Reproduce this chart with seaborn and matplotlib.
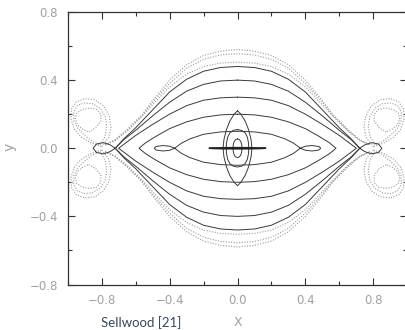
import numpy as np
import pandas as pd
import matplotlib
matplotlib.use("Agg")
import matplotlib.pyplot as plt
import seaborn as sns
from matplotlib.ticker import MultipleLocator

sns.set_style("ticks")
plt.rcParams['font.family'] = ['DejaVu Sans']

# ---------------- data ----------------
# Upper-right quarter of each solid (x1-type) orbit: from the top (x=0) to the tip on the x axis
lens_A_x = [0.00, 0.10, 0.20, 0.30, 0.40, 0.50, 0.60, 0.67, 0.72]
lens_A_y = [0.48, 0.474, 0.452, 0.405, 0.33, 0.225, 0.12, 0.055, 0.0]
loop_A_x = [0.75, 0.79, 0.83, 0.85, 0.83, 0.79, 0.75, 0.72]
loop_A_y = [-0.02, -0.033, -0.025, 0.0, 0.025, 0.033, 0.02, 0.0]

lens_B_x = [0.00, 0.10, 0.20, 0.30, 0.40, 0.50, 0.60, 0.67, 0.72]
lens_B_y = [0.40, 0.395, 0.375, 0.335, 0.27, 0.19, 0.105, 0.05, 0.0]

lens_C_x = [0.00, 0.10, 0.20, 0.30, 0.40, 0.50, 0.60, 0.70]
lens_C_y = [0.30, 0.296, 0.282, 0.25, 0.20, 0.14, 0.075, 0.0]

lens_D_x = [0.00, 0.10, 0.20, 0.30, 0.40, 0.48, 0.54, 0.58]
lens_D_y = [0.20, 0.196, 0.182, 0.155, 0.115, 0.07, 0.033, 0.0]

lens_E_x = [0.00, 0.10, 0.20, 0.28, 0.33, 0.37]
lens_E_y = [0.10, 0.096, 0.082, 0.055, 0.03, 0.0]
loop_E_x = [0.40, 0.44, 0.48, 0.49, 0.48, 0.44, 0.40, 0.37]
loop_E_y = [-0.012, -0.016, -0.01, 0.0, 0.01, 0.016, 0.012, 0.0]

# Central x2-type orbits (upper-right quarter, top to x axis)
oval_1_x = [0.00, 0.02, 0.045, 0.065, 0.08, 0.085]
oval_1_y = [0.22, 0.20, 0.16, 0.11, 0.05, 0.0]
oval_2_x = [0.00, 0.025, 0.045, 0.058, 0.065, 0.066]
oval_2_y = [0.11, 0.105, 0.09, 0.065, 0.03, 0.0]
oval_3_x = [0.00, 0.012, 0.02, 0.025, 0.026]
oval_3_y = [0.055, 0.05, 0.038, 0.02, 0.0]
flat_x = [0.00, 0.08, 0.14, 0.167]
flat_y = [0.004, 0.0035, 0.002, 0.0]

# Dotted outer orbits: upper-right arcs, from top to the lobe region
dot_1_x = [0.00, 0.10, 0.20, 0.30, 0.40, 0.50, 0.56, 0.65, 0.72, 0.78]
dot_1_y = [0.58, 0.57, 0.545, 0.49, 0.40, 0.28, 0.20, 0.11, 0.05, 0.02]
dot_2_x = [0.00, 0.10, 0.20, 0.30, 0.40, 0.50, 0.56, 0.65, 0.72, 0.78]
dot_2_y = [0.555, 0.548, 0.522, 0.47, 0.38, 0.27, 0.195, 0.105, 0.05, 0.02]
dot_3_x = [0.00, 0.10, 0.20, 0.30, 0.40, 0.50, 0.56, 0.65, 0.72, 0.78]
dot_3_y = [0.505, 0.50, 0.48, 0.435, 0.36, 0.255, 0.19, 0.10, 0.045, 0.02]

# Dotted lobes (upper-right one; the other three are mirror images)
lobe_1_x = [0.80, 0.76, 0.745, 0.755, 0.79, 0.84, 0.90, 0.95, 0.978, 0.98, 0.96, 0.92, 0.86, 0.80]
lobe_1_y = [0.01, 0.06, 0.12, 0.19, 0.25, 0.285, 0.292, 0.272, 0.23, 0.17, 0.11, 0.065, 0.03, 0.01]
lobe_2_x = [0.81, 0.78, 0.77, 0.78, 0.81, 0.855, 0.905, 0.945, 0.965, 0.963, 0.94, 0.90, 0.855, 0.81]
lobe_2_y = [0.02, 0.07, 0.13, 0.19, 0.235, 0.262, 0.266, 0.248, 0.21, 0.16, 0.115, 0.075, 0.04, 0.02]
lobe_3_x = [0.876, 0.835, 0.805, 0.805, 0.83, 0.87, 0.915, 0.948, 0.955, 0.94, 0.91, 0.876]
lobe_3_y = [0.096, 0.12, 0.16, 0.20, 0.228, 0.236, 0.228, 0.205, 0.17, 0.135, 0.11, 0.096]

x_ticks = [-0.8, -0.4, 0.0, 0.4, 0.8]
y_ticks = [-0.8, -0.4, 0.0, 0.4, 0.8]

# ---------------- build full closed paths by symmetry ----------------
def closed(qx, qy, lx=None, ly=None):
    qx = np.asarray(qx, float); qy = np.asarray(qy, float)
    parts_x = [qx]; parts_y = [qy]
    if lx is not None:
        parts_x.append(np.asarray(lx, float)); parts_y.append(np.asarray(ly, float))
    parts_x.append(qx[::-1]); parts_y.append(-qy[::-1])
    parts_x.append(-qx); parts_y.append(-qy)
    if lx is not None:
        parts_x.append(-np.asarray(lx, float)); parts_y.append(-np.asarray(ly, float))
    parts_x.append(-qx[::-1]); parts_y.append(qy[::-1])
    return np.concatenate(parts_x), np.concatenate(parts_y)

rows = []
def add(seg, kind, xs, ys):
    for xx, yy in zip(xs, ys):
        rows.append((seg, kind, xx, yy))

add("A", "solid", *closed(lens_A_x, lens_A_y, loop_A_x, loop_A_y))
add("B", "solid", *closed(lens_B_x, lens_B_y))
add("C", "solid", *closed(lens_C_x, lens_C_y))
add("D", "solid", *closed(lens_D_x, lens_D_y))
add("E", "solid", *closed(lens_E_x, lens_E_y, loop_E_x, loop_E_y))
add("O1", "solid", *closed(oval_1_x, oval_1_y))
add("O2", "solid", *closed(oval_2_x, oval_2_y))
add("O3", "solid", *closed(oval_3_x, oval_3_y))
add("F", "flat", *closed(flat_x, flat_y))

for name, (qx, qy) in {"d1": (dot_1_x, dot_1_y), "d2": (dot_2_x, dot_2_y),
                       "d3": (dot_3_x, dot_3_y)}.items():
    qx = np.asarray(qx); qy = np.asarray(qy)
    ax_ = np.concatenate([-qx[::-1], qx[1:]])
    ay_ = np.concatenate([qy[::-1], qy[1:]])
    add(name + "u", "dot", ax_, ay_)
    add(name + "l", "dot", ax_, -ay_)

for name, (lx, ly) in {"l1": (lobe_1_x, lobe_1_y), "l2": (lobe_2_x, lobe_2_y),
                       "l3": (lobe_3_x, lobe_3_y)}.items():
    lx = np.asarray(lx); ly = np.asarray(ly)
    for sx in (1, -1):
        for sy in (1, -1):
            add(f"{name}{sx}{sy}", "dot", sx * lx, sy * ly)

df = pd.DataFrame(rows, columns=["seg", "kind", "x", "y"])

# ---------------- draw ----------------
fig = plt.figure(figsize=(4.05, 3.30), dpi=100)
ax = fig.add_axes([67.7 / 405, 1 - 284.5 / 330, 339.6 / 405, 272.5 / 330])

sns.lineplot(data=df[df.kind == "dot"], x="x", y="y", units="seg", estimator=None,
             sort=False, color="#9c9c9c", lw=0.8, linestyle=(0, (1, 1.4)), ax=ax)
sns.lineplot(data=df[df.kind == "solid"], x="x", y="y", units="seg", estimator=None,
             sort=False, color="#3a3a3a", lw=0.7, ax=ax)
sns.lineplot(data=df[df.kind == "flat"], x="x", y="y", units="seg", estimator=None,
             sort=False, color="#222222", lw=1.0, ax=ax)

ax.set_xlim(-1.0, 1.0)
ax.set_ylim(-0.8, 0.8)
ax.set_xticks(x_ticks)
ax.set_yticks(y_ticks)
ax.set_xticklabels([f"{v:.1f}".replace("-", "\u2212") for v in x_ticks])
ax.set_yticklabels([f"{v:.1f}".replace("-", "\u2212") for v in y_ticks])
ax.xaxis.set_minor_locator(MultipleLocator(0.2))
ax.yaxis.set_minor_locator(MultipleLocator(0.2))
ax.tick_params(which="both", direction="in", top=True, right=True,
               color="#333333", width=0.8, labelcolor="#a0a0a0", labelsize=8.5)
ax.tick_params(which="major", length=5, pad=7)
ax.tick_params(which="minor", length=3)
for s in ax.spines.values():
    s.set_visible(True)
    s.set_color("#333333")
    s.set_linewidth(0.9)

ax.set_xlabel("X", color="#a0a0a0", fontsize=9)
ax.set_ylabel("y", color="#a0a0a0", fontsize=10)
ax.xaxis.set_label_coords(0.5, -(323 - 284.5) / 272.5)
ax.yaxis.set_label_coords((10 - 67.7) / 339.6, 0.505)
ax.xaxis.label.set_va("center")
ax.yaxis.label.set_va("center")

fig.text(141.5 / 405, 1 - 323 / 330, "Sellwood [21]", color="#34495e",
         fontsize=9.5, ha="center", va="center", family=["Lato", "DejaVu Sans"])

fig.savefig("out.png", dpi=100)
